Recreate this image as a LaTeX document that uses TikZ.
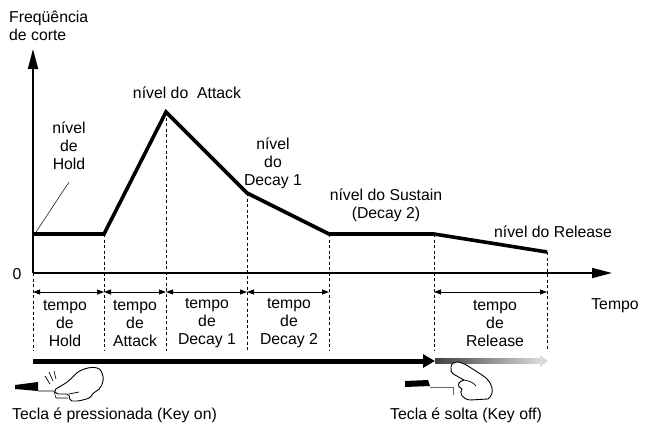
\documentclass[tikz,border=0pt]{standalone}
\usepackage{fontspec}
\setmainfont{Liberation Sans}
\usetikzlibrary{arrows.meta}

\tikzset{
  txt/.style={font=\fontsize{15.8}{18}\selectfont, align=center, inner sep=0pt},
  env/.style={line width=3.6pt, line join=miter},
  guide/.style={line width=0.7pt, dash pattern=on 3pt off 2.5pt},
  axis/.style={line width=1.8pt, -{Triangle[length=20pt,width=10pt]}},
  span/.style={line width=0.8pt, {Triangle[length=7pt,width=5pt]}-{Triangle[length=7pt,width=5pt]}},
  hand/.style={line width=0.9pt, line join=round, fill=white},
}

\begin{document}
\begin{tikzpicture}[x=1pt,y=-1pt]
\useasboundingbox (0,0) rectangle (652,428);

% axes
\coordinate (O) at (33,273);
\coordinate (ytip) at (33,49);
\coordinate (xtip) at (612,273);
\draw[axis] (O) -- (ytip);
\draw[axis] (O) -- (xtip);

\node[txt, anchor=north west, align=left] (freq) at (9,11) {Freqüência\\de corte};
\node[txt] (zero) at (17,274) {0};
\node[txt] (tempo) at (615,306) {Tempo};

% envelope
\coordinate (p0) at (33,234);
\coordinate (p1) at (104,234);
\coordinate (p2) at (166,112);
\coordinate (p3) at (247,193);
\coordinate (p4) at (329,234);
\coordinate (p5) at (434,234);
\coordinate (p6) at (547,252);
\draw[env] (p0) -- (p1) -- (p2) -- (p3) -- (p4) -- (p5) -- (p6);

% level labels
\node[txt] (lvA) at (187,93) {nível do\ \ Attack};
\node[txt] (lvH) at (69,146) {nível\\de\\Hold};
\node[txt] (lvD) at (273,163) {nível\\do\\Decay 1};
\node[txt] (lvS) at (386,205) {nível do Sustain\\(Decay 2)};
\node[txt] (lvR) at (553,232) {nível do Release};
\draw[line width=0.5pt] (lvH.south) ++(0,12) -- ([shift={(3,-2)}]p0);

% time marks
\coordinate (q0) at (33,351);
\foreach \p in {p1,p2,p3,p4,p5,p6}
  \draw[guide] (\p) -- (\p |- q0);
\draw[guide] (O) -- (q0);

\foreach \a/\b in {p0/p1,p1/p2,p2/p3,p3/p4,p5/p6}
  \draw[span] (\a |- 0,292) -- (\b |- 0,292);

\node[txt] (tH) at (65,323) {tempo\\de\\Hold};
\node[txt] (tA) at (135,323) {tempo\\de\\Attack};
\node[txt] (tD) at (207,323) {tempo\\de\\Decay 1};
\node[txt] (tS) at (289,323) {tempo\\de\\Decay 2};
\node[txt] (tR) at (495,323) {tempo\\de\\Release};

% key held / released
\coordinate (on) at (33,361);
\coordinate (off) at (435,361);
\coordinate (fade) at (540,361);
\draw[line width=5pt, -{Triangle[length=12pt,width=13pt]}] (on) -- (off);
\shade[left color=black!75, right color=black!15] (435,358.5) rectangle (fade |- 0,363.5);
\fill[black!15] ([yshift=-6pt]fade) -- (548,361) -- ([yshift=6pt]fade) -- cycle;

% pressing hand
\fill (15,385) -- (38,382) -- (38,391) -- (15,389) -- cycle;
\draw[line width=0.6pt] (38,391) -- (54,391) -- (56,398) -- (68,398);
\draw[hand, rounded corners=2pt] (54,390) -- (66,383) -- (73,377)
  .. controls (80,368) and (98,364) .. (102,373)
  .. controls (105,382) and (100,390) .. (94,392) -- (90,398)
  -- (79,401) -- (70,401) -- (69,394) -- (56,394) -- cycle;
\draw[line width=0.7pt] (69,394) -- (79,392);
\draw[line width=0.7pt] (45,376) -- (50,384) (49,372) -- (53,381) (54,371) -- (56,379);

% released hand
\fill (405,381) -- (428,380) -- (430,386) -- (405,387) -- cycle;
\draw[line width=0.6pt, black!60] (430,387) -- (453,387) -- (453,395);
\draw[hand] (451,367) .. controls (452,360) and (460,361) .. (468,366) -- (482,375)
  .. controls (492,381) and (496,393) .. (488,399) -- (470,400)
  .. controls (462,399) and (459,393) .. (462,389)
  .. controls (456,387) and (458,381) .. (464,380) -- (455,375)
  .. controls (451,373) and (450,370) .. cycle;
\draw[line width=0.7pt] (464,380) .. controls (470,381) and (474,383) .. (476,386);

\node[txt, anchor=base west] (keyon) at (12,419) {Tecla é pressionada (Key on)};
\node[txt, anchor=base west] (keyoff) at (390,419) {Tecla é solta (Key off)};
\end{tikzpicture}
\end{document}
